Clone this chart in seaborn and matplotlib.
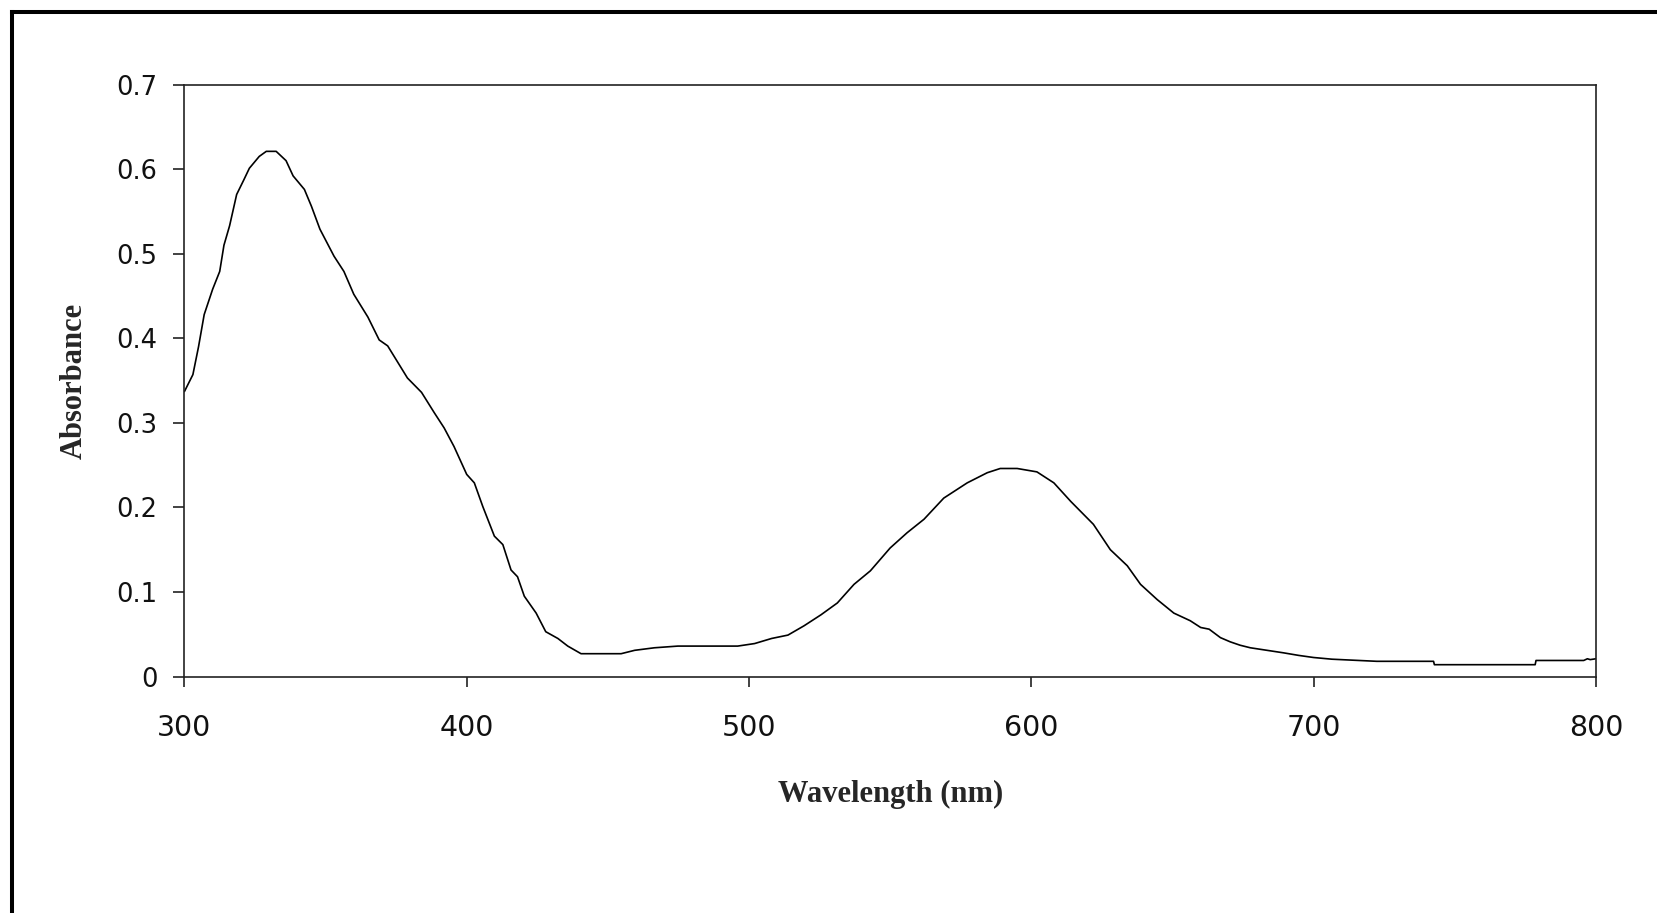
import matplotlib
matplotlib.use("Agg")
import matplotlib.pyplot as plt
from matplotlib.lines import Line2D
import seaborn as sns
import pandas as pd

# Absorbance spectrum, values
wavelength = [300, 303, 305, 307, 310, 312.5, 314, 316, 318.5, 321, 323, 326.5, 329,
              332.5, 336, 338.5, 342.5, 345, 348, 353, 356.5, 360, 365, 369, 372, 379,
              384, 388.5, 392, 395.5, 400, 402.7, 405.7, 409.8, 412.8, 415.7, 418,
              420.4, 424.6, 428, 432.3, 435.8, 440.5, 454.7, 459.5, 466.5, 474.8, 496,
              502, 508, 513.8, 519.5, 525.5, 531.3, 537.2, 543, 550, 556, 562, 569,
              577.3, 584.4, 589, 595, 602, 608, 614, 622, 628, 634, 638.7, 644.6,
              650.5, 656.3, 660, 663, 667, 670.5, 674, 677.6, 683.5, 689.4, 694.7, 700,
              706.5, 722.4, 742.5, 742.8, 778.5, 778.8, 795.7, 797, 798, 800]
absorbance = [0.337, 0.357, 0.390, 0.428, 0.458, 0.479, 0.510, 0.533, 0.570, 0.587,
              0.601, 0.615, 0.621, 0.621, 0.610, 0.592, 0.576, 0.556, 0.529, 0.497,
              0.479, 0.452, 0.425, 0.398, 0.391, 0.353, 0.336, 0.312, 0.294, 0.272,
              0.239, 0.229, 0.201, 0.166, 0.156, 0.126, 0.118, 0.095, 0.075, 0.053,
              0.045, 0.036, 0.027, 0.027, 0.031, 0.034, 0.036, 0.036, 0.039, 0.045,
              0.049, 0.060, 0.073, 0.087, 0.109, 0.125, 0.152, 0.170, 0.186, 0.211,
              0.229, 0.241, 0.246, 0.246, 0.242, 0.229, 0.207, 0.180, 0.150, 0.131,
              0.109, 0.091, 0.075, 0.066, 0.058, 0.056, 0.046, 0.041, 0.037, 0.034,
              0.031, 0.028, 0.025, 0.0225, 0.0205, 0.018, 0.018, 0.014, 0.014, 0.019,
              0.019, 0.021, 0.020, 0.021]

x_ticks = [300, 400, 500, 600, 700, 800]
x_tick_labels = ["300", "400", "500", "600", "700", "800"]
y_ticks = [0, 0.1, 0.2, 0.3, 0.4, 0.5, 0.6, 0.7]
y_tick_labels = ["0", "0.1", "0.2", "0.3", "0.4", "0.5", "0.6", "0.7"]

df = pd.DataFrame({"Wavelength": wavelength, "Absorbance": absorbance})

sns.set_style("white")
plt.rcParams["font.family"] = ["DejaVu Sans"]

fig = plt.figure(figsize=(16.57, 9.13), dpi=100)
ax = fig.add_axes([0.1113, 0.2590, 0.8518, 0.6484])

sns.lineplot(data=df, x="Wavelength", y="Absorbance", ax=ax, color="black",
             linewidth=1.2, sort=False, estimator=None)

ax.set_xlim(300, 800)
ax.set_ylim(0, 0.7)
ax.set_xticks(x_ticks)
ax.set_xticklabels(x_tick_labels)
ax.set_yticks(y_ticks)
ax.set_yticklabels(y_tick_labels)

for side in ["left", "right", "top", "bottom"]:
    ax.spines[side].set_visible(True)
    ax.spines[side].set_color("#222222")
    ax.spines[side].set_linewidth(1.2)

ax.tick_params(axis="x", direction="out", length=7.2, width=1.2, color="#222222",
               pad=19.5, labelsize=20.5, labelcolor="#111111", bottom=True)
ax.tick_params(axis="y", direction="out", length=7.9, width=1.2, color="#222222",
               pad=11.5, labelsize=18.5, labelcolor="#111111", left=True)

label_font = dict(family="Liberation Serif", weight="bold", size=22)
ax.set_xlabel("Wavelength (nm)", **label_font)
ax.set_ylabel("Absorbance", **label_font)
ax.xaxis.set_label_coords(0.5, -0.175)
ax.yaxis.set_label_coords(-0.068, 0.5)

# thick frame on the top and left edges of the picture
bx = 12 / 1657
by = 1 - 11.7 / 913
fig.add_artist(Line2D([bx, bx], [0, by], transform=fig.transFigure, color="black",
                      linewidth=2.9, solid_capstyle="projecting"))
fig.add_artist(Line2D([bx, 1], [by, by], transform=fig.transFigure, color="black",
                      linewidth=2.9, solid_capstyle="projecting"))

fig.savefig("out.png", dpi=100, facecolor="white")
